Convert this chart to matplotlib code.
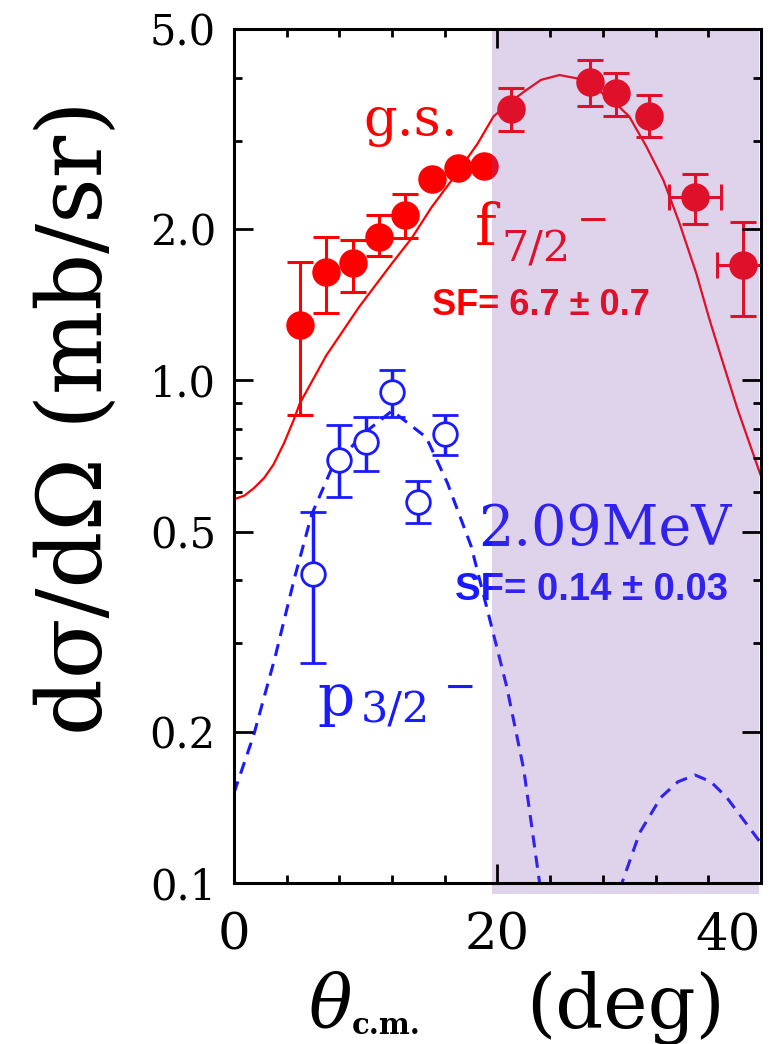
import numpy as np
import matplotlib
matplotlib.use("Agg")
import matplotlib.pyplot as plt
from matplotlib.patches import Rectangle
from matplotlib.transforms import blended_transform_factory

# ground state (f7/2) data, red filled
gs_theta = [5, 7, 9, 11, 13, 15, 17, 19, 21, 27, 29, 31.5, 35, 38.6]
gs_xs = [1.29, 1.64, 1.71, 1.93, 2.13, 2.52, 2.65, 2.67, 3.46, 3.93, 3.73, 3.36, 2.32, 1.70]
gs_hi = [1.72, 1.93, 1.90, 2.13, 2.35, 2.52, 2.65, 2.67, 3.82, 4.33, 4.08, 3.70, 2.57, 2.07]
gs_lo = [0.853, 1.36, 1.50, 1.77, 1.92, 2.52, 2.65, 2.67, 3.13, 3.52, 3.35, 3.05, 2.05, 1.34]
gs_xerr = [0, 0, 0, 0, 0, 0, 0, 0, 0, 0, 0, 0, 2.0, 1.9]

# 2.09 MeV (p3/2) data, blue open
ex_theta = [6, 8, 10, 12, 14, 16]
ex_xs = [0.412, 0.694, 0.755, 0.948, 0.573, 0.782]
ex_hi = [0.548, 0.815, 0.847, 1.05, 0.631, 0.854]
ex_lo = [0.274, 0.586, 0.661, 0.847, 0.520, 0.711]

# DWBA curves
gs_curve_x = [0, 0.8, 1.5, 2.3, 3, 3.8, 4.5, 5, 7, 9.5, 12, 13.5, 15, 17, 18.5, 19.7, 21,
              22, 23.3, 24.7, 26, 27, 28, 29, 30, 31.3, 32.6, 33.8, 35.1, 36.1, 36.9, 38.2, 40]
gs_curve_y = [0.58, 0.59, 0.61, 0.64, 0.68, 0.75, 0.83, 0.90, 1.12, 1.40, 1.71, 1.92, 2.21,
              2.60, 2.96, 3.35, 3.58, 3.75, 3.96, 4.05, 3.99, 3.87, 3.72, 3.55, 3.35, 2.92,
              2.50, 2.06, 1.63, 1.32, 1.13, 0.88, 0.645]
ex_curve_x = [0, 1.5, 3.1, 4.6, 5.9, 7.4, 9.8, 12, 14.6, 16.2, 18, 19.35, 20.7, 22, 23.2, 24,
              29, 29.45, 30.8, 32.4, 33.7, 35, 36.2, 37.4, 40]
ex_curve_y = [0.151, 0.197, 0.280, 0.405, 0.541, 0.666, 0.782, 0.87, 0.770, 0.625, 0.468,
              0.340, 0.246, 0.168, 0.10, 0.05, 0.05, 0.10, 0.126, 0.148, 0.159, 0.164, 0.159,
              0.148, 0.120]

y_ticks = [0.1, 0.2, 0.5, 1.0, 2.0, 5.0]
y_ticklabels = ["0.1", "0.2", "0.5", "1.0", "2.0", "5.0"]
x_ticks = [0, 20, 40]
x_ticklabels = ["0", "20", "40"]

RED = "#ff0000"
BLUE = "#1a1aff"
SERIF = "DejaVu Serif"
plt.rcParams["mathtext.fontset"] = "dejavuserif"

fig = plt.figure(figsize=(7.76, 10.44), dpi=100)
ax = fig.add_axes([0.3015, 0.1542, 0.6791, 0.818])
ax.set_yscale("log")
ax.set_xlim(0, 40)
ax.set_ylim(0.1, 5.0)

# curves
ax.plot(gs_curve_x, gs_curve_y, color=RED, lw=1.6, zorder=2)
ax.plot(ex_curve_x, ex_curve_y, color=BLUE, lw=2.2, dashes=(4, 2.7), zorder=2)

# data points
gs_y = np.array(gs_xs)
ax.errorbar(gs_theta, gs_y, yerr=[gs_y - np.array(gs_lo), np.array(gs_hi) - gs_y],
            xerr=gs_xerr, fmt="o", color=RED, ms=19.5, elinewidth=2.2,
            capsize=9.5, capthick=2.2, zorder=3)
ex_y = np.array(ex_xs)
ax.errorbar(ex_theta, ex_y, yerr=[ex_y - np.array(ex_lo), np.array(ex_hi) - ex_y],
            fmt="o", color=BLUE, mfc="white", mec=BLUE, mew=2.0, ms=17,
            elinewidth=2.5, capsize=9.5, capthick=2.5, zorder=3)

# labels on the plot
ax.text(9.8, 3.08, "g.s.", color=RED, fontsize=38, family=SERIF, zorder=3)
ax.text(18.3, 1.86, "f", color=RED, fontsize=42, family=SERIF, zorder=3)
ax.text(20.3, 1.72, "7/2", color=RED, fontsize=31, family=SERIF, zorder=3)
ax.text(26.0, 2.07, "\u2212", color=RED, fontsize=28, family=SERIF, va="center", zorder=3)
ax.text(15.0, 1.41, "SF= 6.7 \u00b1 0.7", color=RED, fontsize=26, fontweight="bold",
        family="Liberation Sans", va="center", zorder=3)

ax.text(18.5, 0.504, "2.09MeV", color=BLUE, fontsize=40, family=SERIF, va="center", zorder=3)
ax.text(16.8, 0.383, "SF= 0.14 \u00b1 0.03", color=BLUE, fontsize=27.5, fontweight="bold",
        family="Liberation Sans", va="center", zorder=3)
ax.text(6.3, 0.216, "p", color=BLUE, fontsize=42, family=SERIF, zorder=3)
ax.text(9.6, 0.209, "3/2", color=BLUE, fontsize=31, family=SERIF, zorder=3)
ax.text(15.9, 0.244, "\u2212", color=BLUE, fontsize=28, family=SERIF, va="center", zorder=3)

# shaded angular region, laid over the data
trans = blended_transform_factory(ax.transData, ax.transAxes)
ax.add_patch(Rectangle((19.6, -0.013), 40 - 19.6 - 0.15, 1.013, transform=trans,
                       facecolor="#7d43af", alpha=0.24, edgecolor="none",
                       clip_on=False, zorder=4))

# axes styling
for sp in ax.spines.values():
    sp.set_linewidth(2.2)
    sp.set_zorder(5)
ax.xaxis.set_zorder(5)
ax.yaxis.set_zorder(5)

ax.set_yticks(y_ticks)
ax.set_yticklabels(y_ticklabels, family=SERIF, fontsize=30)
ax.yaxis.set_minor_locator(matplotlib.ticker.LogLocator(base=10, subs=np.arange(2, 10)))
ax.yaxis.set_minor_formatter(matplotlib.ticker.NullFormatter())
ax.set_xticks(x_ticks)
ax.set_xticklabels(x_ticklabels, family=SERIF, fontsize=37)
ax.xaxis.get_ticklabels()[-1].set_horizontalalignment("right")
ax.set_xticks(np.arange(4, 40, 4), minor=True)

ax.tick_params(which="both", direction="in", top=True, right=True, width=2.0)
ax.tick_params(which="major", length=14)
ax.tick_params(which="minor", length=6)
ax.tick_params(axis="y", which="major", pad=13)
ax.tick_params(axis="x", which="major", pad=20)

# axis titles
fig.text(77 / 776, 1 - 418 / 1044, "d\u03c3/d\u03a9 (mb/sr)", rotation=90,
         ha="center", va="center", fontsize=64, family=SERIF)
fig.text(330 / 776, 1 - 1008 / 1044, r"$\theta$", ha="center", va="center", fontsize=52)
fig.text(386 / 776, 1 - 1026 / 1044, "c.m.", ha="center", va="center", fontsize=21,
         fontweight="bold", family=SERIF)
fig.text(625 / 776, 1 - 1008 / 1044, "(deg)", ha="center", va="center", fontsize=54,
         family=SERIF)

fig.savefig("out.png", dpi=100)
plt.close(fig)
